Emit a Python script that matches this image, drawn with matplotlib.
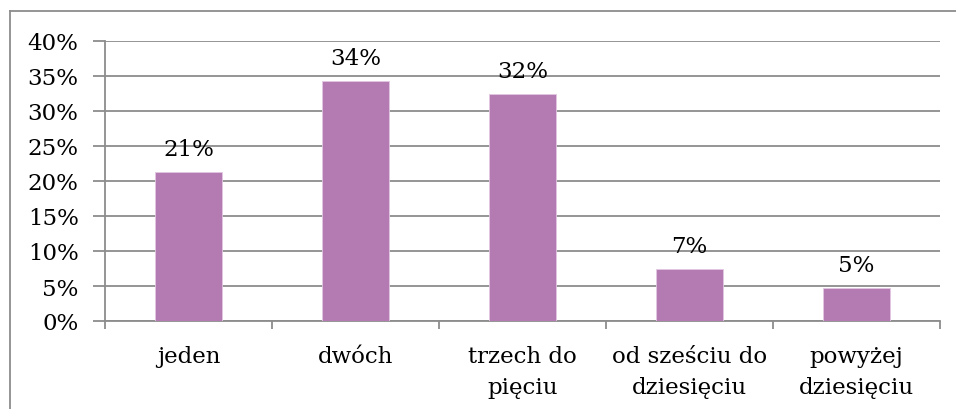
import matplotlib
matplotlib.use("Agg")
import matplotlib.pyplot as plt
from matplotlib.lines import Line2D

categories = ["jeden", "dwóch", "trzech do\npięciu", "od sześciu do\ndziesięciu", "powyżej\ndziesięciu"]
values = [21.3, 34.3, 32.4, 7.4, 4.7]
labels = ["21%", "34%", "32%", "7%", "5%"]
yticks = [0, 5, 10, 15, 20, 25, 30, 35, 40]

plt.rcParams['font.family'] = ['DejaVu Serif']
FS = 16.5
GRID = '#8c8c8c'
BAR = '#B47BB3'

fig = plt.figure(figsize=(9.56, 4.10), dpi=100)
ax = fig.add_axes([105/956, 1-322/410, (940-105)/956, (322-42)/410])

x = list(range(len(categories)))
ax.bar(x, values, width=0.4, color=BAR, edgecolor='#E3C6E2', linewidth=0.6, zorder=3)
for xi, v, lab in zip(x, values, labels):
    ax.annotate(lab, (xi, v), xytext=(0, 12.5), textcoords='offset points',
                ha='center', va='baseline', fontsize=FS, color='black', zorder=4)

ax.set_xlim(-0.5, len(categories) - 0.5)
ax.set_ylim(0, 40)
ax.set_yticks(yticks)
ax.set_yticklabels([f"{t}%" for t in yticks], fontsize=FS)
ax.yaxis.grid(True, color=GRID, linewidth=1.3, zorder=0)
ax.set_axisbelow(True)

ax.set_xticks([i - 0.5 for i in range(len(categories) + 1)])
ax.set_xticklabels([])
ax.set_xticks(x, minor=True)
ax.set_xticklabels(categories, minor=True, fontsize=FS, linespacing=1.55)
ax.tick_params(axis='x', which='minor', length=0, pad=17)
ax.tick_params(axis='x', which='major', length=6, width=1.3, color=GRID, direction='out')
ax.tick_params(axis='y', length=9, width=1.3, color=GRID, direction='out', pad=10)

for s in ['top', 'right']:
    ax.spines[s].set_visible(False)
for s in ['left', 'bottom']:
    ax.spines[s].set_color(GRID)
    ax.spines[s].set_linewidth(1.3)

# outer chart frame
fig.add_artist(Line2D([10/956, 10/956], [0, 1-12/410], transform=fig.transFigure, color=GRID, linewidth=1.3))
fig.add_artist(Line2D([10/956, 1], [1-12/410, 1-12/410], transform=fig.transFigure, color=GRID, linewidth=1.3))

fig.savefig("out.png", dpi=100)
